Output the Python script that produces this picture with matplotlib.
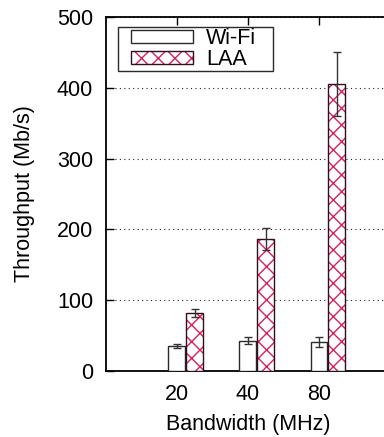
import matplotlib
matplotlib.use("Agg")
import matplotlib.pyplot as plt
from matplotlib.legend_handler import HandlerTuple
from matplotlib.patches import Rectangle
import numpy as np

categories = ["20", "40", "80"]
wifi = [35, 43, 41]
wifi_err = [3, 4.5, 7.5]
laa = [82, 187, 405]
laa_err = [6, 15.5, 45]

plt.rcParams['font.family'] = ['Liberation Sans', 'DejaVu Sans']
plt.rcParams['hatch.linewidth'] = 1.0

fig = plt.figure(figsize=(3.84, 4.37), dpi=100)
ax = fig.add_axes([105.7/384, 66/437, (390-105.7)/384, (371-17)/437])

x = np.arange(len(categories))
w = 0.235
off = 0.25
crimson = '#d6205f'
edge = '#2a2a2a'
fs = 15.5

b1 = ax.bar(x, wifi, w, color='white', edgecolor=edge, linewidth=1.0, zorder=3)
ax.errorbar(x, wifi, yerr=wifi_err, fmt='none', ecolor='#333333', elinewidth=1.0,
            capsize=3.2, capthick=1.0, zorder=4)
b2h = ax.bar(x + off, laa, w, color='white', edgecolor=crimson, hatch='xx', linewidth=0, zorder=3)
b2e = ax.bar(x + off, laa, w, fill=False, edgecolor='#301018', linewidth=1.0, zorder=3.5)
ax.errorbar(x + off, laa, yerr=laa_err, fmt='none', ecolor='#333333', elinewidth=1.0,
            capsize=3.2, capthick=1.0, zorder=4)

ax.set_xlim(-1, 3)
ax.set_ylim(0, 500)
ax.set_xticks(x)
ax.set_xticklabels(categories)
ax.set_yticks([0, 100, 200, 300, 400, 500])
ax.yaxis.grid(True, color='#222222', linestyle=(0, (1, 3)), linewidth=0.8, zorder=0)
ax.set_axisbelow(True)

ax.tick_params(axis='both', direction='in', length=6, width=1.0, labelsize=fs, color='black')
ax.tick_params(axis='x', top=True, bottom=True, pad=9.5)
ax.tick_params(axis='y', left=True, right=False, pad=9)
for s in ax.spines.values():
    s.set_linewidth(1.3)

ax.set_xlabel("Bandwidth (MHz)", fontsize=fs, labelpad=6)
ax.set_ylabel("Throughput (Mb/s)", fontsize=fs, labelpad=16)

leg = ax.legend([b1[0], (b2h[0], b2e[0])], ["Wi-Fi", "LAA"],
                handler_map={tuple: HandlerTuple(ndivide=1, pad=0)},
                loc='upper left', bbox_to_anchor=(0.089, 0.969), borderaxespad=0,
                fontsize=fs, frameon=False, handlelength=2.9, handleheight=0.55,
                labelspacing=0.0, borderpad=0.0, handletextpad=0.6)
leg.set_zorder(6)
frame = Rectangle((0.042, 0.8466), 0.545, 0.1244, transform=ax.transAxes,
                  facecolor='white', edgecolor=edge, linewidth=1.0, zorder=5)
ax.add_patch(frame)

fig.savefig("out.png", dpi=100)
